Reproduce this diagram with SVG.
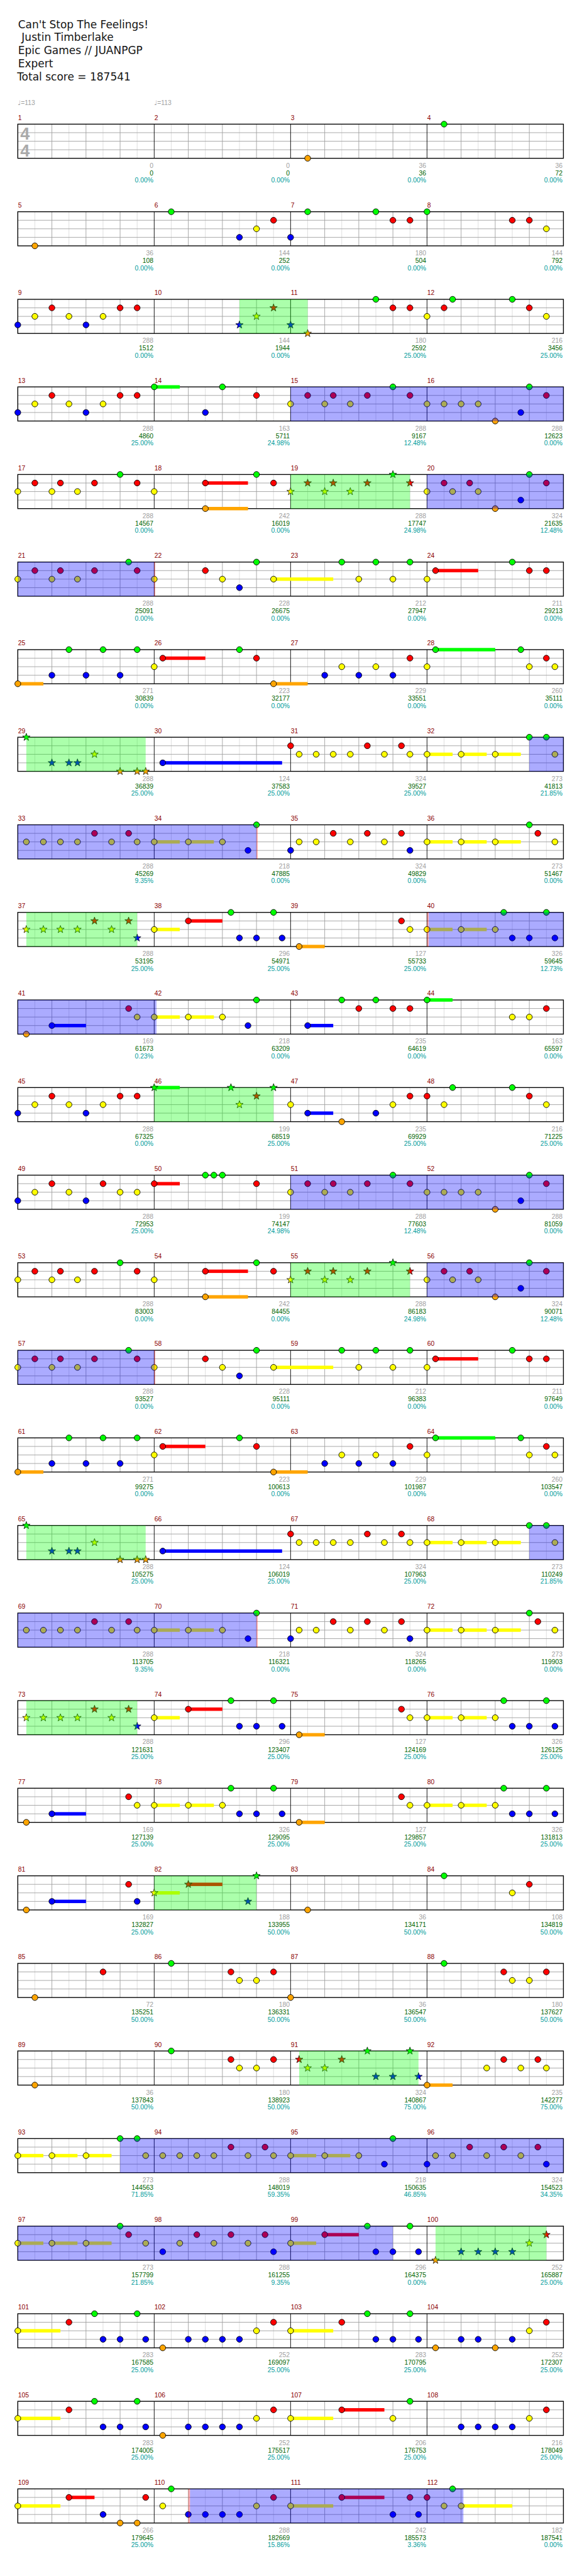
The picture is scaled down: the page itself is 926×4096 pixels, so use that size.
<svg xmlns="http://www.w3.org/2000/svg" width="926" height="4096" viewBox="0 0 926 4096">
<style>
text{font-family:"Liberation Sans",Arial,sans-serif}
.hd{font-family:"DejaVu Sans",Verdana,sans-serif;font-size:18.8px;fill:#141414}
.mn{font-size:11.5px;fill:#8b0000}
.a{font-size:11.5px;fill:#a0a0a0;text-anchor:end}
.s{font-size:11.5px;fill:#006400;text-anchor:end}
.p{font-size:11.5px;fill:#009c9c;text-anchor:end}
.tp{font-size:11.5px;fill:#a0a0a0}
.ts{font-size:30px;font-weight:bold;fill:#aaaaaa}
circle{stroke:#000;stroke-width:1}
.G{fill:#00ff00}.R{fill:#ff0000}.Y{fill:#ffff00}.B{fill:#0000ff}.O{fill:#ffa500}
.bo{fill:#0000ff;opacity:.33}.go{fill:#00ff00;opacity:.33}.ro{fill:#ff0000;opacity:.33}
</style>
<defs>
<path id="st" d="M0-7L1.65-2.27L6.66-2.16L2.66 0.87L4.11 5.66L0 2.8L-4.11 5.66L-2.66 0.87L-6.66-2.16L-1.65-2.27Z" stroke="#000" stroke-width="0.8"/>
<g id="staff">
<path d="M30 0V60M90 0V60M150 0V60M210 0V60M270 0V60M330 0V60M390 0V60M450 0V60M510 0V60M570 0V60M630 0V60M690 0V60M750 0V60M810 0V60M870 0V60M930 0V60" stroke="#dcdcdc"/>
<path d="M60 0V60M120 0V60M180 0V60M300 0V60M360 0V60M420 0V60M540 0V60M600 0V60M660 0V60M780 0V60M840 0V60M900 0V60" stroke="#a0a0a0"/>
<path d="M0 15H960M0 30H960M0 45H960" stroke="#a0a0a0"/>
<path d="M240 0V60M480 0V60M720 0V60" stroke="#000"/>
<rect width="960" height="60" fill="none" stroke="#000" stroke-width="1.5"/>
</g>
<g id="p3"><circle class="O" cx="30" cy="60" r="5.2"/></g>
<g id="p4"><circle class="G" cx="30" cy="0" r="5.2"/></g>
<g id="p6"><circle class="G" cx="30" cy="0" r="5.2"/><circle class="B" cx="150" cy="45" r="5.2"/><circle class="Y" cx="180" cy="30" r="5.2"/><circle class="R" cx="210" cy="15" r="5.2"/></g>
<g id="p7"><circle class="B" cx="0" cy="45" r="5.2"/><circle class="G" cx="30" cy="0" r="5.2"/><circle class="G" cx="150" cy="0" r="5.2"/><circle class="R" cx="180" cy="15" r="5.2"/><circle class="R" cx="210" cy="15" r="5.2"/></g>
<g id="p8"><circle class="G" cx="0" cy="0" r="5.2"/><circle class="R" cx="150" cy="15" r="5.2"/><circle class="R" cx="180" cy="15" r="5.2"/><circle class="Y" cx="210" cy="30" r="5.2"/></g>
<g id="p9"><circle class="B" cx="0" cy="45" r="5.2"/><circle class="Y" cx="30" cy="30" r="5.2"/><circle class="R" cx="60" cy="15" r="5.2"/><circle class="Y" cx="90" cy="30" r="5.2"/><circle class="B" cx="120" cy="45" r="5.2"/><circle class="Y" cx="150" cy="30" r="5.2"/><circle class="R" cx="180" cy="15" r="5.2"/><circle class="R" cx="210" cy="15" r="5.2"/></g>
<g id="p10"><use href="#st" x="150" y="45" class="B"/><use href="#st" x="180" y="30" class="Y"/><use href="#st" x="210" y="15" class="R"/></g>
<g id="p11"><use href="#st" x="0" y="45" class="B"/><use href="#st" x="30" y="60" class="O"/><circle class="G" cx="150" cy="0" r="5.2"/><circle class="R" cx="180" cy="15" r="5.2"/><circle class="R" cx="210" cy="15" r="5.2"/></g>
<g id="p12"><circle class="Y" cx="0" cy="30" r="5.2"/><circle class="R" cx="30" cy="15" r="5.2"/><circle class="G" cx="45" cy="0" r="5.2"/><circle class="G" cx="150" cy="0" r="5.2"/><circle class="R" cx="180" cy="15" r="5.2"/><circle class="Y" cx="210" cy="30" r="5.2"/></g>
<g id="p14"><rect class="G" x="0" y="-3" width="45" height="6"/><circle class="G" cx="0" cy="0" r="5.2"/><circle class="B" cx="90" cy="45" r="5.2"/><circle class="G" cx="120" cy="0" r="5.2"/><circle class="R" cx="180" cy="15" r="5.2"/></g>
<g id="pA"><circle class="Y" cx="0" cy="30" r="5.2"/><circle class="R" cx="30" cy="15" r="5.2"/><circle class="Y" cx="60" cy="30" r="5.2"/><circle class="R" cx="75" cy="15" r="5.2"/><circle class="Y" cx="105" cy="30" r="5.2"/><circle class="R" cx="135" cy="15" r="5.2"/><circle class="G" cx="180" cy="0" r="5.2"/><circle class="R" cx="210" cy="15" r="5.2"/></g>
<g id="pB"><circle class="Y" cx="0" cy="30" r="5.2"/><circle class="Y" cx="30" cy="30" r="5.2"/><circle class="Y" cx="60" cy="30" r="5.2"/><circle class="Y" cx="90" cy="30" r="5.2"/><circle class="O" cx="120" cy="60" r="5.2"/><circle class="B" cx="165" cy="45" r="5.2"/><circle class="G" cx="180" cy="0" r="5.2"/><circle class="R" cx="210" cy="15" r="5.2"/></g>
<g id="p18"><rect class="R" x="90" y="12" width="75" height="6"/><rect class="O" x="90" y="57" width="75" height="6"/><circle class="Y" cx="0" cy="30" r="5.2"/><circle class="R" cx="90" cy="15" r="5.2"/><circle class="O" cx="90" cy="60" r="5.2"/><circle class="G" cx="180" cy="0" r="5.2"/><circle class="R" cx="210" cy="15" r="5.2"/></g>
<g id="p19"><use href="#st" x="0" y="30" class="Y"/><use href="#st" x="30" y="15" class="R"/><use href="#st" x="60" y="30" class="Y"/><use href="#st" x="75" y="15" class="R"/><use href="#st" x="105" y="30" class="Y"/><use href="#st" x="135" y="15" class="R"/><use href="#st" x="180" y="0" class="G"/><use href="#st" x="210" y="15" class="R"/></g>
<g id="p20"><circle class="Y" cx="0" cy="30" r="5.2"/><circle class="R" cx="30" cy="15" r="5.2"/><circle class="Y" cx="45" cy="30" r="5.2"/><circle class="R" cx="75" cy="15" r="5.2"/><circle class="Y" cx="90" cy="30" r="5.2"/><circle class="O" cx="120" cy="60" r="5.2"/><circle class="B" cx="165" cy="45" r="5.2"/><circle class="G" cx="180" cy="0" r="5.2"/><circle class="R" cx="210" cy="15" r="5.2"/></g>
<g id="p21"><circle class="Y" cx="0" cy="30" r="5.2"/><circle class="R" cx="30" cy="15" r="5.2"/><circle class="Y" cx="60" cy="30" r="5.2"/><circle class="R" cx="75" cy="15" r="5.2"/><circle class="Y" cx="105" cy="30" r="5.2"/><circle class="R" cx="135" cy="15" r="5.2"/><circle class="G" cx="195" cy="0" r="5.2"/><circle class="R" cx="210" cy="15" r="5.2"/></g>
<g id="p22"><rect class="Y" x="210" y="27" width="105" height="6"/><circle class="Y" cx="0" cy="30" r="5.2"/><circle class="R" cx="90" cy="15" r="5.2"/><circle class="Y" cx="120" cy="30" r="5.2"/><circle class="B" cx="150" cy="45" r="5.2"/><circle class="G" cx="180" cy="0" r="5.2"/><circle class="Y" cx="210" cy="30" r="5.2"/></g>
<g id="p23"><circle class="G" cx="90" cy="0" r="5.2"/><circle class="Y" cx="120" cy="30" r="5.2"/><circle class="G" cx="150" cy="0" r="5.2"/><circle class="Y" cx="180" cy="30" r="5.2"/><circle class="G" cx="210" cy="0" r="5.2"/></g>
<g id="p24"><rect class="R" x="15" y="12" width="75" height="6"/><circle class="Y" cx="0" cy="30" r="5.2"/><circle class="R" cx="15" cy="15" r="5.2"/><circle class="G" cx="150" cy="0" r="5.2"/><circle class="R" cx="180" cy="15" r="5.2"/><circle class="R" cx="210" cy="15" r="5.2"/></g>
<g id="p25"><rect class="O" x="0" y="57" width="45" height="6"/><circle class="O" cx="0" cy="60" r="5.2"/><circle class="B" cx="60" cy="45" r="5.2"/><circle class="G" cx="90" cy="0" r="5.2"/><circle class="B" cx="120" cy="45" r="5.2"/><circle class="G" cx="150" cy="0" r="5.2"/><circle class="B" cx="180" cy="45" r="5.2"/><circle class="G" cx="210" cy="0" r="5.2"/></g>
<g id="p26"><rect class="R" x="15" y="12" width="75" height="6"/><rect class="O" x="210" y="57" width="60" height="6"/><circle class="Y" cx="0" cy="30" r="5.2"/><circle class="R" cx="15" cy="15" r="5.2"/><circle class="G" cx="150" cy="0" r="5.2"/><circle class="R" cx="180" cy="15" r="5.2"/><circle class="O" cx="210" cy="60" r="5.2"/></g>
<g id="p27"><circle class="B" cx="60" cy="45" r="5.2"/><circle class="Y" cx="90" cy="30" r="5.2"/><circle class="B" cx="120" cy="45" r="5.2"/><circle class="Y" cx="150" cy="30" r="5.2"/><circle class="B" cx="180" cy="45" r="5.2"/><circle class="R" cx="210" cy="15" r="5.2"/></g>
<g id="p28"><rect class="G" x="15" y="-3" width="105" height="6"/><circle class="Y" cx="0" cy="30" r="5.2"/><circle class="G" cx="15" cy="0" r="5.2"/><circle class="G" cx="165" cy="0" r="5.2"/><circle class="Y" cx="180" cy="30" r="5.2"/><circle class="R" cx="210" cy="15" r="5.2"/><circle class="Y" cx="225" cy="30" r="5.2"/></g>
<g id="p29"><use href="#st" x="15" y="0" class="G"/><use href="#st" x="60" y="45" class="B"/><use href="#st" x="90" y="45" class="B"/><use href="#st" x="105" y="45" class="B"/><use href="#st" x="135" y="30" class="Y"/><use href="#st" x="180" y="60" class="O"/><use href="#st" x="210" y="60" class="O"/><use href="#st" x="225" y="60" class="O"/></g>
<g id="p30"><rect class="B" x="15" y="42" width="210" height="6"/><circle class="B" cx="15" cy="45" r="5.2"/></g>
<g id="p31"><circle class="R" cx="0" cy="15" r="5.2"/><circle class="Y" cx="15" cy="30" r="5.2"/><circle class="Y" cx="45" cy="30" r="5.2"/><circle class="Y" cx="75" cy="30" r="5.2"/><circle class="Y" cx="105" cy="30" r="5.2"/><circle class="R" cx="135" cy="15" r="5.2"/><circle class="Y" cx="165" cy="30" r="5.2"/><circle class="R" cx="195" cy="15" r="5.2"/><circle class="Y" cx="210" cy="30" r="5.2"/></g>
<g id="p32"><rect class="Y" x="0" y="27" width="45" height="6"/><rect class="Y" x="60" y="27" width="45" height="6"/><rect class="Y" x="120" y="27" width="45" height="6"/><circle class="Y" cx="0" cy="30" r="5.2"/><circle class="Y" cx="60" cy="30" r="5.2"/><circle class="Y" cx="120" cy="30" r="5.2"/><circle class="G" cx="180" cy="0" r="5.2"/><circle class="G" cx="210" cy="0" r="5.2"/><circle class="Y" cx="225" cy="30" r="5.2"/></g>
<g id="p33"><circle class="Y" cx="15" cy="30" r="5.2"/><circle class="Y" cx="45" cy="30" r="5.2"/><circle class="Y" cx="75" cy="30" r="5.2"/><circle class="Y" cx="105" cy="30" r="5.2"/><circle class="R" cx="135" cy="15" r="5.2"/><circle class="Y" cx="165" cy="30" r="5.2"/><circle class="R" cx="195" cy="15" r="5.2"/><circle class="Y" cx="210" cy="30" r="5.2"/></g>
<g id="p34"><rect class="Y" x="0" y="27" width="45" height="6"/><rect class="Y" x="60" y="27" width="45" height="6"/><circle class="Y" cx="0" cy="30" r="5.2"/><circle class="Y" cx="60" cy="30" r="5.2"/><circle class="Y" cx="120" cy="30" r="5.2"/><circle class="B" cx="165" cy="45" r="5.2"/><circle class="G" cx="180" cy="0" r="5.2"/></g>
<g id="p35"><circle class="B" cx="0" cy="45" r="5.2"/><circle class="Y" cx="15" cy="30" r="5.2"/><circle class="Y" cx="45" cy="30" r="5.2"/><circle class="R" cx="75" cy="15" r="5.2"/><circle class="Y" cx="105" cy="30" r="5.2"/><circle class="R" cx="135" cy="15" r="5.2"/><circle class="Y" cx="165" cy="30" r="5.2"/><circle class="R" cx="195" cy="15" r="5.2"/><circle class="B" cx="210" cy="45" r="5.2"/></g>
<g id="p36"><rect class="Y" x="0" y="27" width="45" height="6"/><rect class="Y" x="60" y="27" width="45" height="6"/><rect class="Y" x="120" y="27" width="45" height="6"/><circle class="Y" cx="0" cy="30" r="5.2"/><circle class="Y" cx="60" cy="30" r="5.2"/><circle class="Y" cx="120" cy="30" r="5.2"/><circle class="G" cx="180" cy="0" r="5.2"/><circle class="R" cx="195" cy="15" r="5.2"/><circle class="Y" cx="225" cy="30" r="5.2"/></g>
<g id="p37"><use href="#st" x="15" y="30" class="Y"/><use href="#st" x="45" y="30" class="Y"/><use href="#st" x="75" y="30" class="Y"/><use href="#st" x="105" y="30" class="Y"/><use href="#st" x="135" y="15" class="R"/><use href="#st" x="165" y="30" class="Y"/><use href="#st" x="195" y="15" class="R"/><use href="#st" x="210" y="45" class="B"/></g>
<g id="p38"><rect class="Y" x="0" y="27" width="45" height="6"/><rect class="R" x="60" y="12" width="60" height="6"/><circle class="Y" cx="0" cy="30" r="5.2"/><circle class="R" cx="60" cy="15" r="5.2"/><circle class="G" cx="135" cy="0" r="5.2"/><circle class="B" cx="150" cy="45" r="5.2"/><circle class="B" cx="180" cy="45" r="5.2"/><circle class="G" cx="210" cy="0" r="5.2"/><circle class="B" cx="225" cy="45" r="5.2"/></g>
<g id="p39"><rect class="O" x="15" y="57" width="45" height="6"/><circle class="O" cx="15" cy="60" r="5.2"/><circle class="R" cx="195" cy="15" r="5.2"/><circle class="Y" cx="210" cy="30" r="5.2"/></g>
<g id="p40"><rect class="Y" x="0" y="27" width="45" height="6"/><rect class="Y" x="60" y="27" width="45" height="6"/><circle class="Y" cx="0" cy="30" r="5.2"/><circle class="Y" cx="60" cy="30" r="5.2"/><circle class="Y" cx="120" cy="30" r="5.2"/><circle class="G" cx="135" cy="0" r="5.2"/><circle class="B" cx="150" cy="45" r="5.2"/><circle class="B" cx="180" cy="45" r="5.2"/><circle class="G" cx="210" cy="0" r="5.2"/><circle class="B" cx="225" cy="45" r="5.2"/></g>
<g id="p41"><rect class="B" x="60" y="42" width="60" height="6"/><circle class="O" cx="15" cy="60" r="5.2"/><circle class="B" cx="60" cy="45" r="5.2"/><circle class="R" cx="195" cy="15" r="5.2"/><circle class="Y" cx="210" cy="30" r="5.2"/></g>
<g id="p43"><rect class="B" x="30" y="42" width="45" height="6"/><circle class="B" cx="30" cy="45" r="5.2"/><circle class="G" cx="90" cy="0" r="5.2"/><circle class="R" cx="120" cy="15" r="5.2"/><circle class="G" cx="150" cy="0" r="5.2"/><circle class="R" cx="180" cy="15" r="5.2"/><circle class="R" cx="210" cy="15" r="5.2"/></g>
<g id="p44"><rect class="G" x="0" y="-3" width="45" height="6"/><circle class="G" cx="0" cy="0" r="5.2"/><circle class="Y" cx="150" cy="30" r="5.2"/><circle class="Y" cx="180" cy="30" r="5.2"/><circle class="R" cx="210" cy="15" r="5.2"/></g>
<g id="p46"><rect class="G" x="0" y="-3" width="45" height="6"/><use href="#st" x="0" y="0" class="G"/><use href="#st" x="135" y="0" class="G"/><use href="#st" x="150" y="30" class="Y"/><use href="#st" x="180" y="15" class="R"/><use href="#st" x="210" y="0" class="G"/></g>
<g id="p47"><rect class="B" x="30" y="42" width="45" height="6"/><circle class="Y" cx="0" cy="30" r="5.2"/><circle class="B" cx="30" cy="45" r="5.2"/><circle class="O" cx="90" cy="60" r="5.2"/><circle class="B" cx="150" cy="45" r="5.2"/><circle class="Y" cx="180" cy="30" r="5.2"/><circle class="R" cx="210" cy="15" r="5.2"/></g>
<g id="p48"><circle class="R" cx="0" cy="15" r="5.2"/><circle class="Y" cx="30" cy="30" r="5.2"/><circle class="G" cx="45" cy="0" r="5.2"/><circle class="G" cx="150" cy="0" r="5.2"/><circle class="R" cx="180" cy="15" r="5.2"/><circle class="Y" cx="210" cy="30" r="5.2"/></g>
<g id="p49"><circle class="B" cx="0" cy="45" r="5.2"/><circle class="Y" cx="30" cy="30" r="5.2"/><circle class="R" cx="60" cy="15" r="5.2"/><circle class="Y" cx="90" cy="30" r="5.2"/><circle class="B" cx="120" cy="45" r="5.2"/><circle class="R" cx="150" cy="15" r="5.2"/><circle class="Y" cx="180" cy="30" r="5.2"/><circle class="Y" cx="210" cy="30" r="5.2"/></g>
<g id="p50"><rect class="R" x="0" y="12" width="45" height="6"/><circle class="R" cx="0" cy="15" r="5.2"/><circle class="G" cx="90" cy="0" r="5.2"/><circle class="G" cx="105" cy="0" r="5.2"/><circle class="G" cx="120" cy="0" r="5.2"/><circle class="R" cx="180" cy="15" r="5.2"/></g>
<g id="p81"><rect class="B" x="60" y="42" width="60" height="6"/><circle class="O" cx="15" cy="60" r="5.2"/><circle class="B" cx="60" cy="45" r="5.2"/><circle class="R" cx="195" cy="15" r="5.2"/><circle class="B" cx="210" cy="45" r="5.2"/></g>
<g id="p82"><rect class="Y" x="0" y="27" width="45" height="6"/><rect class="R" x="60" y="12" width="60" height="6"/><use href="#st" x="0" y="30" class="Y"/><use href="#st" x="60" y="15" class="R"/><use href="#st" x="165" y="45" class="B"/><use href="#st" x="180" y="0" class="G"/></g>
<g id="p84"><circle class="G" cx="30" cy="0" r="5.2"/><circle class="Y" cx="150" cy="30" r="5.2"/><circle class="R" cx="180" cy="15" r="5.2"/></g>
<g id="p85"><circle class="O" cx="30" cy="60" r="5.2"/><circle class="R" cx="150" cy="15" r="5.2"/></g>
<g id="p86"><circle class="G" cx="30" cy="0" r="5.2"/><circle class="R" cx="135" cy="15" r="5.2"/><circle class="Y" cx="150" cy="30" r="5.2"/><circle class="Y" cx="180" cy="30" r="5.2"/><circle class="R" cx="210" cy="15" r="5.2"/></g>
<g id="p87"><circle class="O" cx="0" cy="60" r="5.2"/></g>
<g id="p91"><use href="#st" x="15" y="15" class="R"/><use href="#st" x="30" y="30" class="Y"/><use href="#st" x="60" y="30" class="Y"/><use href="#st" x="90" y="15" class="R"/><use href="#st" x="135" y="0" class="G"/><use href="#st" x="150" y="45" class="B"/><use href="#st" x="180" y="45" class="B"/><use href="#st" x="210" y="0" class="G"/><use href="#st" x="225" y="45" class="B"/></g>
<g id="p92"><rect class="O" x="0" y="57" width="45" height="6"/><circle class="O" cx="0" cy="60" r="5.2"/><circle class="Y" cx="105" cy="30" r="5.2"/><circle class="R" cx="135" cy="15" r="5.2"/><circle class="Y" cx="165" cy="30" r="5.2"/><circle class="R" cx="195" cy="15" r="5.2"/><circle class="Y" cx="210" cy="30" r="5.2"/></g>
<g id="p98"><circle class="B" cx="15" cy="45" r="5.2"/><circle class="Y" cx="45" cy="30" r="5.2"/><circle class="R" cx="75" cy="15" r="5.2"/><circle class="Y" cx="105" cy="30" r="5.2"/><circle class="R" cx="135" cy="15" r="5.2"/><circle class="Y" cx="165" cy="30" r="5.2"/><circle class="R" cx="195" cy="15" r="5.2"/><circle class="B" cx="210" cy="45" r="5.2"/></g>
<g id="p100"><use href="#st" x="15" y="60" class="O"/><use href="#st" x="60" y="45" class="B"/><use href="#st" x="90" y="45" class="B"/><use href="#st" x="120" y="45" class="B"/><use href="#st" x="150" y="45" class="B"/><use href="#st" x="180" y="30" class="Y"/><use href="#st" x="210" y="15" class="R"/></g>
<g id="p101"><rect class="Y" x="0" y="27" width="75" height="6"/><circle class="Y" cx="0" cy="30" r="5.2"/><circle class="R" cx="90" cy="15" r="5.2"/><circle class="G" cx="135" cy="0" r="5.2"/><circle class="B" cx="150" cy="45" r="5.2"/><circle class="B" cx="180" cy="45" r="5.2"/><circle class="G" cx="210" cy="0" r="5.2"/><circle class="B" cx="225" cy="45" r="5.2"/></g>
<g id="p102"><circle class="O" cx="15" cy="60" r="5.2"/><circle class="B" cx="60" cy="45" r="5.2"/><circle class="B" cx="90" cy="45" r="5.2"/><circle class="B" cx="120" cy="45" r="5.2"/><circle class="B" cx="150" cy="45" r="5.2"/><circle class="Y" cx="180" cy="30" r="5.2"/><circle class="R" cx="210" cy="15" r="5.2"/></g>
<g id="p104"><circle class="O" cx="15" cy="60" r="5.2"/><circle class="B" cx="60" cy="45" r="5.2"/><circle class="B" cx="90" cy="45" r="5.2"/><circle class="O" cx="120" cy="60" r="5.2"/><circle class="B" cx="150" cy="45" r="5.2"/><circle class="Y" cx="180" cy="30" r="5.2"/><circle class="R" cx="210" cy="15" r="5.2"/></g>
<g id="p107"><rect class="Y" x="0" y="27" width="75" height="6"/><rect class="R" x="90" y="12" width="75" height="6"/><circle class="Y" cx="0" cy="30" r="5.2"/><circle class="R" cx="90" cy="15" r="5.2"/><circle class="Y" cx="180" cy="30" r="5.2"/><circle class="G" cx="210" cy="0" r="5.2"/></g>
<g id="p108"><circle class="B" cx="60" cy="45" r="5.2"/><circle class="B" cx="90" cy="45" r="5.2"/><circle class="B" cx="120" cy="45" r="5.2"/><circle class="B" cx="150" cy="45" r="5.2"/><circle class="Y" cx="180" cy="30" r="5.2"/><circle class="R" cx="210" cy="15" r="5.2"/></g>
<g id="p109"><rect class="Y" x="0" y="27" width="75" height="6"/><rect class="R" x="90" y="12" width="45" height="6"/><circle class="Y" cx="0" cy="30" r="5.2"/><circle class="R" cx="90" cy="15" r="5.2"/><circle class="B" cx="150" cy="45" r="5.2"/><circle class="O" cx="180" cy="60" r="5.2"/><circle class="O" cx="210" cy="60" r="5.2"/><circle class="R" cx="225" cy="15" r="5.2"/></g>
<g id="p110"><circle class="Y" cx="15" cy="30" r="5.2"/><circle class="G" cx="30" cy="0" r="5.2"/><circle class="B" cx="60" cy="45" r="5.2"/><circle class="B" cx="90" cy="45" r="5.2"/><circle class="B" cx="120" cy="45" r="5.2"/><circle class="B" cx="150" cy="45" r="5.2"/><circle class="Y" cx="180" cy="30" r="5.2"/><circle class="R" cx="210" cy="15" r="5.2"/></g>
<g id="p111"><rect class="Y" x="0" y="27" width="75" height="6"/><rect class="R" x="90" y="12" width="75" height="6"/><circle class="Y" cx="0" cy="30" r="5.2"/><circle class="R" cx="90" cy="15" r="5.2"/><circle class="B" cx="180" cy="45" r="5.2"/><circle class="R" cx="210" cy="15" r="5.2"/><circle class="B" cx="225" cy="45" r="5.2"/></g>
<g id="p112"><rect class="Y" x="60" y="27" width="90" height="6"/><circle class="R" cx="0" cy="15" r="5.2"/><circle class="Y" cx="30" cy="30" r="5.2"/><circle class="G" cx="45" cy="0" r="5.2"/><circle class="Y" cx="60" cy="30" r="5.2"/></g>
</defs>
<rect width="926" height="4096" fill="#fff"/>
<g transform="scale(0.9043)">
<g id="header">
<text class="hd" x="31.7" y="49.3">Can't Stop The Feelings!</text>
<text class="hd" x="38" y="72.3">Justin Timberlake</text>
<text class="hd" x="31.7" y="95.3">Epic Games // JUANPGP</text>
<text class="hd" x="31.7" y="118.3">Expert</text>
<text class="hd" x="30" y="141">Total score = 187541</text>
</g>
<g id="row1" transform="translate(31.3,218.3)">
<use href="#staff"/>
<text class="ts" x="4.5" y="26.7">4</text><text class="ts" x="4.5" y="56.7">4</text>
<use href="#p3" x="480"/><use href="#p4" x="720"/>
<text class="tp" x="0" y="-33.3"><tspan font-family="DejaVu Sans">♩</tspan>=113</text><text class="tp" x="240" y="-33.3"><tspan font-family="DejaVu Sans">♩</tspan>=113</text>
<text class="mn" x="0.5" y="-7.3">1</text><text class="mn" x="240.5" y="-7.3">2</text><text class="mn" x="480.5" y="-7.3">3</text><text class="mn" x="720.5" y="-7.3">4</text>
<text class="a" x="238.5" y="76.7">0</text><text class="s" x="238.5" y="90">0</text><text class="p" x="238.5" y="102.7">0.00%</text>
<text class="a" x="478.5" y="76.7">0</text><text class="s" x="478.5" y="90">0</text><text class="p" x="478.5" y="102.7">0.00%</text>
<text class="a" x="718.5" y="76.7">36</text><text class="s" x="718.5" y="90">36</text><text class="p" x="718.5" y="102.7">0.00%</text>
<text class="a" x="958.5" y="76.7">36</text><text class="s" x="958.5" y="90">72</text><text class="p" x="958.5" y="102.7">0.00%</text>
</g>
<g id="row2" transform="translate(31.3,372.3)">
<use href="#staff"/>
<use href="#p3"/><use href="#p6" x="240"/><use href="#p7" x="480"/><use href="#p8" x="720"/>
<text class="mn" x="0.5" y="-7.3">5</text><text class="mn" x="240.5" y="-7.3">6</text><text class="mn" x="480.5" y="-7.3">7</text><text class="mn" x="720.5" y="-7.3">8</text>
<text class="a" x="238.5" y="76.7">36</text><text class="s" x="238.5" y="90">108</text><text class="p" x="238.5" y="102.7">0.00%</text>
<text class="a" x="478.5" y="76.7">144</text><text class="s" x="478.5" y="90">252</text><text class="p" x="478.5" y="102.7">0.00%</text>
<text class="a" x="718.5" y="76.7">180</text><text class="s" x="718.5" y="90">504</text><text class="p" x="718.5" y="102.7">0.00%</text>
<text class="a" x="958.5" y="76.7">144</text><text class="s" x="958.5" y="90">792</text><text class="p" x="958.5" y="102.7">0.00%</text>
</g>
<g id="row3" transform="translate(31.3,526.3)">
<use href="#staff"/>
<use href="#p9"/><use href="#p10" x="240"/><use href="#p11" x="480"/><use href="#p12" x="720"/>
<rect class="go" x="390" y="0" width="120" height="60"/>
<text class="mn" x="0.5" y="-7.3">9</text><text class="mn" x="240.5" y="-7.3">10</text><text class="mn" x="480.5" y="-7.3">11</text><text class="mn" x="720.5" y="-7.3">12</text>
<text class="a" x="238.5" y="76.7">288</text><text class="s" x="238.5" y="90">1512</text><text class="p" x="238.5" y="102.7">0.00%</text>
<text class="a" x="478.5" y="76.7">144</text><text class="s" x="478.5" y="90">1944</text><text class="p" x="478.5" y="102.7">0.00%</text>
<text class="a" x="718.5" y="76.7">180</text><text class="s" x="718.5" y="90">2592</text><text class="p" x="718.5" y="102.7">25.00%</text>
<text class="a" x="958.5" y="76.7">216</text><text class="s" x="958.5" y="90">3456</text><text class="p" x="958.5" y="102.7">25.00%</text>
</g>
<g id="row4" transform="translate(31.3,680.3)">
<use href="#staff"/>
<use href="#p9"/><use href="#p14" x="240"/><use href="#pA" x="480"/><use href="#pB" x="720"/>
<rect class="bo" x="480" y="0" width="480" height="60"/>
<text class="mn" x="0.5" y="-7.3">13</text><text class="mn" x="240.5" y="-7.3">14</text><text class="mn" x="480.5" y="-7.3">15</text><text class="mn" x="720.5" y="-7.3">16</text>
<text class="a" x="238.5" y="76.7">288</text><text class="s" x="238.5" y="90">4860</text><text class="p" x="238.5" y="102.7">25.00%</text>
<text class="a" x="478.5" y="76.7">163</text><text class="s" x="478.5" y="90">5711</text><text class="p" x="478.5" y="102.7">24.98%</text>
<text class="a" x="718.5" y="76.7">288</text><text class="s" x="718.5" y="90">9167</text><text class="p" x="718.5" y="102.7">12.48%</text>
<text class="a" x="958.5" y="76.7">288</text><text class="s" x="958.5" y="90">12623</text><text class="p" x="958.5" y="102.7">0.00%</text>
</g>
<g id="row5" transform="translate(31.3,834.3)">
<use href="#staff"/>
<use href="#pA"/><use href="#p18" x="240"/><use href="#p19" x="480"/><use href="#p20" x="720"/>
<rect class="go" x="480" y="0" width="210" height="60"/><rect class="bo" x="720" y="0" width="240" height="60"/>
<text class="mn" x="0.5" y="-7.3">17</text><text class="mn" x="240.5" y="-7.3">18</text><text class="mn" x="480.5" y="-7.3">19</text><text class="mn" x="720.5" y="-7.3">20</text>
<text class="a" x="238.5" y="76.7">288</text><text class="s" x="238.5" y="90">14567</text><text class="p" x="238.5" y="102.7">0.00%</text>
<text class="a" x="478.5" y="76.7">242</text><text class="s" x="478.5" y="90">16019</text><text class="p" x="478.5" y="102.7">0.00%</text>
<text class="a" x="718.5" y="76.7">288</text><text class="s" x="718.5" y="90">17747</text><text class="p" x="718.5" y="102.7">24.98%</text>
<text class="a" x="958.5" y="76.7">324</text><text class="s" x="958.5" y="90">21635</text><text class="p" x="958.5" y="102.7">12.48%</text>
</g>
<g id="row6" transform="translate(31.3,988.3)">
<use href="#staff"/>
<use href="#p21"/><use href="#p22" x="240"/><use href="#p23" x="480"/><use href="#p24" x="720"/>
<rect class="bo" x="0" y="0" width="240" height="60"/><rect class="ro" x="240" y="0" width="2" height="60"/>
<text class="mn" x="0.5" y="-7.3">21</text><text class="mn" x="240.5" y="-7.3">22</text><text class="mn" x="480.5" y="-7.3">23</text><text class="mn" x="720.5" y="-7.3">24</text>
<text class="a" x="238.5" y="76.7">288</text><text class="s" x="238.5" y="90">25091</text><text class="p" x="238.5" y="102.7">0.00%</text>
<text class="a" x="478.5" y="76.7">228</text><text class="s" x="478.5" y="90">26675</text><text class="p" x="478.5" y="102.7">0.00%</text>
<text class="a" x="718.5" y="76.7">212</text><text class="s" x="718.5" y="90">27947</text><text class="p" x="718.5" y="102.7">0.00%</text>
<text class="a" x="958.5" y="76.7">211</text><text class="s" x="958.5" y="90">29213</text><text class="p" x="958.5" y="102.7">0.00%</text>
</g>
<g id="row7" transform="translate(31.3,1142.3)">
<use href="#staff"/>
<use href="#p25"/><use href="#p26" x="240"/><use href="#p27" x="480"/><use href="#p28" x="720"/>
<text class="mn" x="0.5" y="-7.3">25</text><text class="mn" x="240.5" y="-7.3">26</text><text class="mn" x="480.5" y="-7.3">27</text><text class="mn" x="720.5" y="-7.3">28</text>
<text class="a" x="238.5" y="76.7">271</text><text class="s" x="238.5" y="90">30839</text><text class="p" x="238.5" y="102.7">0.00%</text>
<text class="a" x="478.5" y="76.7">223</text><text class="s" x="478.5" y="90">32177</text><text class="p" x="478.5" y="102.7">0.00%</text>
<text class="a" x="718.5" y="76.7">229</text><text class="s" x="718.5" y="90">33551</text><text class="p" x="718.5" y="102.7">0.00%</text>
<text class="a" x="958.5" y="76.7">260</text><text class="s" x="958.5" y="90">35111</text><text class="p" x="958.5" y="102.7">0.00%</text>
</g>
<g id="row8" transform="translate(31.3,1296.3)">
<use href="#staff"/>
<use href="#p29"/><use href="#p30" x="240"/><use href="#p31" x="480"/><use href="#p32" x="720"/>
<rect class="go" x="15" y="0" width="210" height="60"/><rect class="bo" x="900" y="0" width="60" height="60"/>
<text class="mn" x="0.5" y="-7.3">29</text><text class="mn" x="240.5" y="-7.3">30</text><text class="mn" x="480.5" y="-7.3">31</text><text class="mn" x="720.5" y="-7.3">32</text>
<text class="a" x="238.5" y="76.7">288</text><text class="s" x="238.5" y="90">36839</text><text class="p" x="238.5" y="102.7">25.00%</text>
<text class="a" x="478.5" y="76.7">124</text><text class="s" x="478.5" y="90">37583</text><text class="p" x="478.5" y="102.7">25.00%</text>
<text class="a" x="718.5" y="76.7">324</text><text class="s" x="718.5" y="90">39527</text><text class="p" x="718.5" y="102.7">25.00%</text>
<text class="a" x="958.5" y="76.7">273</text><text class="s" x="958.5" y="90">41813</text><text class="p" x="958.5" y="102.7">21.85%</text>
</g>
<g id="row9" transform="translate(31.3,1450.3)">
<use href="#staff"/>
<use href="#p33"/><use href="#p34" x="240"/><use href="#p35" x="480"/><use href="#p36" x="720"/>
<rect class="bo" x="0" y="0" width="420" height="60"/><rect class="ro" x="420" y="0" width="2" height="60"/>
<text class="mn" x="0.5" y="-7.3">33</text><text class="mn" x="240.5" y="-7.3">34</text><text class="mn" x="480.5" y="-7.3">35</text><text class="mn" x="720.5" y="-7.3">36</text>
<text class="a" x="238.5" y="76.7">288</text><text class="s" x="238.5" y="90">45269</text><text class="p" x="238.5" y="102.7">9.35%</text>
<text class="a" x="478.5" y="76.7">218</text><text class="s" x="478.5" y="90">47885</text><text class="p" x="478.5" y="102.7">0.00%</text>
<text class="a" x="718.5" y="76.7">324</text><text class="s" x="718.5" y="90">49829</text><text class="p" x="718.5" y="102.7">0.00%</text>
<text class="a" x="958.5" y="76.7">273</text><text class="s" x="958.5" y="90">51467</text><text class="p" x="958.5" y="102.7">0.00%</text>
</g>
<g id="row10" transform="translate(31.3,1604.3)">
<use href="#staff"/>
<use href="#p37"/><use href="#p38" x="240"/><use href="#p39" x="480"/><use href="#p40" x="720"/>
<rect class="go" x="15" y="0" width="195" height="60"/><rect class="ro" x="720" y="0" width="3" height="60"/><rect class="bo" x="723" y="0" width="237" height="60"/>
<text class="mn" x="0.5" y="-7.3">37</text><text class="mn" x="240.5" y="-7.3">38</text><text class="mn" x="480.5" y="-7.3">39</text><text class="mn" x="720.5" y="-7.3">40</text>
<text class="a" x="238.5" y="76.7">288</text><text class="s" x="238.5" y="90">53195</text><text class="p" x="238.5" y="102.7">25.00%</text>
<text class="a" x="478.5" y="76.7">296</text><text class="s" x="478.5" y="90">54971</text><text class="p" x="478.5" y="102.7">25.00%</text>
<text class="a" x="718.5" y="76.7">127</text><text class="s" x="718.5" y="90">55733</text><text class="p" x="718.5" y="102.7">25.00%</text>
<text class="a" x="958.5" y="76.7">326</text><text class="s" x="958.5" y="90">59645</text><text class="p" x="958.5" y="102.7">12.73%</text>
</g>
<g id="row11" transform="translate(31.3,1758.3)">
<use href="#staff"/>
<use href="#p41"/><use href="#p34" x="240"/><use href="#p43" x="480"/><use href="#p44" x="720"/>
<rect class="bo" x="0" y="0" width="244" height="60"/>
<text class="mn" x="0.5" y="-7.3">41</text><text class="mn" x="240.5" y="-7.3">42</text><text class="mn" x="480.5" y="-7.3">43</text><text class="mn" x="720.5" y="-7.3">44</text>
<text class="a" x="238.5" y="76.7">169</text><text class="s" x="238.5" y="90">61673</text><text class="p" x="238.5" y="102.7">0.23%</text>
<text class="a" x="478.5" y="76.7">218</text><text class="s" x="478.5" y="90">63209</text><text class="p" x="478.5" y="102.7">0.00%</text>
<text class="a" x="718.5" y="76.7">235</text><text class="s" x="718.5" y="90">64619</text><text class="p" x="718.5" y="102.7">0.00%</text>
<text class="a" x="958.5" y="76.7">163</text><text class="s" x="958.5" y="90">65597</text><text class="p" x="958.5" y="102.7">0.00%</text>
</g>
<g id="row12" transform="translate(31.3,1912.3)">
<use href="#staff"/>
<use href="#p9"/><use href="#p46" x="240"/><use href="#p47" x="480"/><use href="#p48" x="720"/>
<rect class="go" x="240" y="0" width="210" height="60"/>
<text class="mn" x="0.5" y="-7.3">45</text><text class="mn" x="240.5" y="-7.3">46</text><text class="mn" x="480.5" y="-7.3">47</text><text class="mn" x="720.5" y="-7.3">48</text>
<text class="a" x="238.5" y="76.7">288</text><text class="s" x="238.5" y="90">67325</text><text class="p" x="238.5" y="102.7">0.00%</text>
<text class="a" x="478.5" y="76.7">199</text><text class="s" x="478.5" y="90">68519</text><text class="p" x="478.5" y="102.7">25.00%</text>
<text class="a" x="718.5" y="76.7">235</text><text class="s" x="718.5" y="90">69929</text><text class="p" x="718.5" y="102.7">25.00%</text>
<text class="a" x="958.5" y="76.7">216</text><text class="s" x="958.5" y="90">71225</text><text class="p" x="958.5" y="102.7">25.00%</text>
</g>
<g id="row13" transform="translate(31.3,2066.3)">
<use href="#staff"/>
<use href="#p49"/><use href="#p50" x="240"/><use href="#pA" x="480"/><use href="#pB" x="720"/>
<rect class="bo" x="480" y="0" width="480" height="60"/>
<text class="mn" x="0.5" y="-7.3">49</text><text class="mn" x="240.5" y="-7.3">50</text><text class="mn" x="480.5" y="-7.3">51</text><text class="mn" x="720.5" y="-7.3">52</text>
<text class="a" x="238.5" y="76.7">288</text><text class="s" x="238.5" y="90">72953</text><text class="p" x="238.5" y="102.7">25.00%</text>
<text class="a" x="478.5" y="76.7">199</text><text class="s" x="478.5" y="90">74147</text><text class="p" x="478.5" y="102.7">24.98%</text>
<text class="a" x="718.5" y="76.7">288</text><text class="s" x="718.5" y="90">77603</text><text class="p" x="718.5" y="102.7">12.48%</text>
<text class="a" x="958.5" y="76.7">288</text><text class="s" x="958.5" y="90">81059</text><text class="p" x="958.5" y="102.7">0.00%</text>
</g>
<g id="row14" transform="translate(31.3,2220.3)">
<use href="#staff"/>
<use href="#pA"/><use href="#p18" x="240"/><use href="#p19" x="480"/><use href="#p20" x="720"/>
<rect class="go" x="480" y="0" width="210" height="60"/><rect class="bo" x="720" y="0" width="240" height="60"/>
<text class="mn" x="0.5" y="-7.3">53</text><text class="mn" x="240.5" y="-7.3">54</text><text class="mn" x="480.5" y="-7.3">55</text><text class="mn" x="720.5" y="-7.3">56</text>
<text class="a" x="238.5" y="76.7">288</text><text class="s" x="238.5" y="90">83003</text><text class="p" x="238.5" y="102.7">0.00%</text>
<text class="a" x="478.5" y="76.7">242</text><text class="s" x="478.5" y="90">84455</text><text class="p" x="478.5" y="102.7">0.00%</text>
<text class="a" x="718.5" y="76.7">288</text><text class="s" x="718.5" y="90">86183</text><text class="p" x="718.5" y="102.7">24.98%</text>
<text class="a" x="958.5" y="76.7">324</text><text class="s" x="958.5" y="90">90071</text><text class="p" x="958.5" y="102.7">12.48%</text>
</g>
<g id="row15" transform="translate(31.3,2374.3)">
<use href="#staff"/>
<use href="#p21"/><use href="#p22" x="240"/><use href="#p23" x="480"/><use href="#p24" x="720"/>
<rect class="bo" x="0" y="0" width="240" height="60"/><rect class="ro" x="240" y="0" width="2" height="60"/>
<text class="mn" x="0.5" y="-7.3">57</text><text class="mn" x="240.5" y="-7.3">58</text><text class="mn" x="480.5" y="-7.3">59</text><text class="mn" x="720.5" y="-7.3">60</text>
<text class="a" x="238.5" y="76.7">288</text><text class="s" x="238.5" y="90">93527</text><text class="p" x="238.5" y="102.7">0.00%</text>
<text class="a" x="478.5" y="76.7">228</text><text class="s" x="478.5" y="90">95111</text><text class="p" x="478.5" y="102.7">0.00%</text>
<text class="a" x="718.5" y="76.7">212</text><text class="s" x="718.5" y="90">96383</text><text class="p" x="718.5" y="102.7">0.00%</text>
<text class="a" x="958.5" y="76.7">211</text><text class="s" x="958.5" y="90">97649</text><text class="p" x="958.5" y="102.7">0.00%</text>
</g>
<g id="row16" transform="translate(31.3,2528.3)">
<use href="#staff"/>
<use href="#p25"/><use href="#p26" x="240"/><use href="#p27" x="480"/><use href="#p28" x="720"/>
<text class="mn" x="0.5" y="-7.3">61</text><text class="mn" x="240.5" y="-7.3">62</text><text class="mn" x="480.5" y="-7.3">63</text><text class="mn" x="720.5" y="-7.3">64</text>
<text class="a" x="238.5" y="76.7">271</text><text class="s" x="238.5" y="90">99275</text><text class="p" x="238.5" y="102.7">0.00%</text>
<text class="a" x="478.5" y="76.7">223</text><text class="s" x="478.5" y="90">100613</text><text class="p" x="478.5" y="102.7">0.00%</text>
<text class="a" x="718.5" y="76.7">229</text><text class="s" x="718.5" y="90">101987</text><text class="p" x="718.5" y="102.7">0.00%</text>
<text class="a" x="958.5" y="76.7">260</text><text class="s" x="958.5" y="90">103547</text><text class="p" x="958.5" y="102.7">0.00%</text>
</g>
<g id="row17" transform="translate(31.3,2682.3)">
<use href="#staff"/>
<use href="#p29"/><use href="#p30" x="240"/><use href="#p31" x="480"/><use href="#p32" x="720"/>
<rect class="go" x="15" y="0" width="210" height="60"/><rect class="bo" x="900" y="0" width="60" height="60"/>
<text class="mn" x="0.5" y="-7.3">65</text><text class="mn" x="240.5" y="-7.3">66</text><text class="mn" x="480.5" y="-7.3">67</text><text class="mn" x="720.5" y="-7.3">68</text>
<text class="a" x="238.5" y="76.7">288</text><text class="s" x="238.5" y="90">105275</text><text class="p" x="238.5" y="102.7">25.00%</text>
<text class="a" x="478.5" y="76.7">124</text><text class="s" x="478.5" y="90">106019</text><text class="p" x="478.5" y="102.7">25.00%</text>
<text class="a" x="718.5" y="76.7">324</text><text class="s" x="718.5" y="90">107963</text><text class="p" x="718.5" y="102.7">25.00%</text>
<text class="a" x="958.5" y="76.7">273</text><text class="s" x="958.5" y="90">110249</text><text class="p" x="958.5" y="102.7">21.85%</text>
</g>
<g id="row18" transform="translate(31.3,2836.3)">
<use href="#staff"/>
<use href="#p33"/><use href="#p34" x="240"/><use href="#p35" x="480"/><use href="#p36" x="720"/>
<rect class="bo" x="0" y="0" width="420" height="60"/><rect class="ro" x="420" y="0" width="2" height="60"/>
<text class="mn" x="0.5" y="-7.3">69</text><text class="mn" x="240.5" y="-7.3">70</text><text class="mn" x="480.5" y="-7.3">71</text><text class="mn" x="720.5" y="-7.3">72</text>
<text class="a" x="238.5" y="76.7">288</text><text class="s" x="238.5" y="90">113705</text><text class="p" x="238.5" y="102.7">9.35%</text>
<text class="a" x="478.5" y="76.7">218</text><text class="s" x="478.5" y="90">116321</text><text class="p" x="478.5" y="102.7">0.00%</text>
<text class="a" x="718.5" y="76.7">324</text><text class="s" x="718.5" y="90">118265</text><text class="p" x="718.5" y="102.7">0.00%</text>
<text class="a" x="958.5" y="76.7">273</text><text class="s" x="958.5" y="90">119903</text><text class="p" x="958.5" y="102.7">0.00%</text>
</g>
<g id="row19" transform="translate(31.3,2990.3)">
<use href="#staff"/>
<use href="#p37"/><use href="#p38" x="240"/><use href="#p39" x="480"/><use href="#p40" x="720"/>
<rect class="go" x="15" y="0" width="195" height="60"/>
<text class="mn" x="0.5" y="-7.3">73</text><text class="mn" x="240.5" y="-7.3">74</text><text class="mn" x="480.5" y="-7.3">75</text><text class="mn" x="720.5" y="-7.3">76</text>
<text class="a" x="238.5" y="76.7">288</text><text class="s" x="238.5" y="90">121631</text><text class="p" x="238.5" y="102.7">25.00%</text>
<text class="a" x="478.5" y="76.7">296</text><text class="s" x="478.5" y="90">123407</text><text class="p" x="478.5" y="102.7">25.00%</text>
<text class="a" x="718.5" y="76.7">127</text><text class="s" x="718.5" y="90">124169</text><text class="p" x="718.5" y="102.7">25.00%</text>
<text class="a" x="958.5" y="76.7">326</text><text class="s" x="958.5" y="90">126125</text><text class="p" x="958.5" y="102.7">25.00%</text>
</g>
<g id="row20" transform="translate(31.3,3144.3)">
<use href="#staff"/>
<use href="#p41"/><use href="#p40" x="240"/><use href="#p39" x="480"/><use href="#p40" x="720"/>
<text class="mn" x="0.5" y="-7.3">77</text><text class="mn" x="240.5" y="-7.3">78</text><text class="mn" x="480.5" y="-7.3">79</text><text class="mn" x="720.5" y="-7.3">80</text>
<text class="a" x="238.5" y="76.7">169</text><text class="s" x="238.5" y="90">127139</text><text class="p" x="238.5" y="102.7">25.00%</text>
<text class="a" x="478.5" y="76.7">326</text><text class="s" x="478.5" y="90">129095</text><text class="p" x="478.5" y="102.7">25.00%</text>
<text class="a" x="718.5" y="76.7">127</text><text class="s" x="718.5" y="90">129857</text><text class="p" x="718.5" y="102.7">25.00%</text>
<text class="a" x="958.5" y="76.7">326</text><text class="s" x="958.5" y="90">131813</text><text class="p" x="958.5" y="102.7">25.00%</text>
</g>
<g id="row21" transform="translate(31.3,3298.3)">
<use href="#staff"/>
<use href="#p81"/><use href="#p82" x="240"/><use href="#p3" x="480"/><use href="#p84" x="720"/>
<rect class="go" x="240" y="0" width="180" height="60"/>
<text class="mn" x="0.5" y="-7.3">81</text><text class="mn" x="240.5" y="-7.3">82</text><text class="mn" x="480.5" y="-7.3">83</text><text class="mn" x="720.5" y="-7.3">84</text>
<text class="a" x="238.5" y="76.7">169</text><text class="s" x="238.5" y="90">132827</text><text class="p" x="238.5" y="102.7">25.00%</text>
<text class="a" x="478.5" y="76.7">188</text><text class="s" x="478.5" y="90">133955</text><text class="p" x="478.5" y="102.7">50.00%</text>
<text class="a" x="718.5" y="76.7">36</text><text class="s" x="718.5" y="90">134171</text><text class="p" x="718.5" y="102.7">50.00%</text>
<text class="a" x="958.5" y="76.7">108</text><text class="s" x="958.5" y="90">134819</text><text class="p" x="958.5" y="102.7">50.00%</text>
</g>
<g id="row22" transform="translate(31.3,3452.3)">
<use href="#staff"/>
<use href="#p85"/><use href="#p86" x="240"/><use href="#p87" x="480"/><use href="#p86" x="720"/>
<text class="mn" x="0.5" y="-7.3">85</text><text class="mn" x="240.5" y="-7.3">86</text><text class="mn" x="480.5" y="-7.3">87</text><text class="mn" x="720.5" y="-7.3">88</text>
<text class="a" x="238.5" y="76.7">72</text><text class="s" x="238.5" y="90">135251</text><text class="p" x="238.5" y="102.7">50.00%</text>
<text class="a" x="478.5" y="76.7">180</text><text class="s" x="478.5" y="90">136331</text><text class="p" x="478.5" y="102.7">50.00%</text>
<text class="a" x="718.5" y="76.7">36</text><text class="s" x="718.5" y="90">136547</text><text class="p" x="718.5" y="102.7">50.00%</text>
<text class="a" x="958.5" y="76.7">180</text><text class="s" x="958.5" y="90">137627</text><text class="p" x="958.5" y="102.7">50.00%</text>
</g>
<g id="row23" transform="translate(31.3,3606.3)">
<use href="#staff"/>
<use href="#p3"/><use href="#p86" x="240"/><use href="#p91" x="480"/><use href="#p92" x="720"/>
<rect class="go" x="495" y="0" width="210" height="60"/>
<text class="mn" x="0.5" y="-7.3">89</text><text class="mn" x="240.5" y="-7.3">90</text><text class="mn" x="480.5" y="-7.3">91</text><text class="mn" x="720.5" y="-7.3">92</text>
<text class="a" x="238.5" y="76.7">36</text><text class="s" x="238.5" y="90">137843</text><text class="p" x="238.5" y="102.7">50.00%</text>
<text class="a" x="478.5" y="76.7">180</text><text class="s" x="478.5" y="90">138923</text><text class="p" x="478.5" y="102.7">50.00%</text>
<text class="a" x="718.5" y="76.7">324</text><text class="s" x="718.5" y="90">140867</text><text class="p" x="718.5" y="102.7">75.00%</text>
<text class="a" x="958.5" y="76.7">235</text><text class="s" x="958.5" y="90">142277</text><text class="p" x="958.5" y="102.7">75.00%</text>
</g>
<g id="row24" transform="translate(31.3,3760.3)">
<use href="#staff"/>
<use href="#p32"/><use href="#p33" x="240"/><use href="#p34" x="480"/><use href="#p35" x="720"/>
<rect class="bo" x="180" y="0" width="780" height="60"/>
<text class="mn" x="0.5" y="-7.3">93</text><text class="mn" x="240.5" y="-7.3">94</text><text class="mn" x="480.5" y="-7.3">95</text><text class="mn" x="720.5" y="-7.3">96</text>
<text class="a" x="238.5" y="76.7">273</text><text class="s" x="238.5" y="90">144563</text><text class="p" x="238.5" y="102.7">71.85%</text>
<text class="a" x="478.5" y="76.7">288</text><text class="s" x="478.5" y="90">148019</text><text class="p" x="478.5" y="102.7">59.35%</text>
<text class="a" x="718.5" y="76.7">218</text><text class="s" x="718.5" y="90">150635</text><text class="p" x="718.5" y="102.7">46.85%</text>
<text class="a" x="958.5" y="76.7">324</text><text class="s" x="958.5" y="90">154523</text><text class="p" x="958.5" y="102.7">34.35%</text>
</g>
<g id="row25" transform="translate(31.3,3914.3)">
<use href="#staff"/>
<use href="#p36"/><use href="#p98" x="240"/><use href="#p38" x="480"/><use href="#p100" x="720"/>
<rect class="bo" x="0" y="0" width="660" height="60"/><rect class="go" x="735" y="0" width="195" height="60"/>
<text class="mn" x="0.5" y="-7.3">97</text><text class="mn" x="240.5" y="-7.3">98</text><text class="mn" x="480.5" y="-7.3">99</text><text class="mn" x="720.5" y="-7.3">100</text>
<text class="a" x="238.5" y="76.7">273</text><text class="s" x="238.5" y="90">157799</text><text class="p" x="238.5" y="102.7">21.85%</text>
<text class="a" x="478.5" y="76.7">288</text><text class="s" x="478.5" y="90">161255</text><text class="p" x="478.5" y="102.7">9.35%</text>
<text class="a" x="718.5" y="76.7">296</text><text class="s" x="718.5" y="90">164375</text><text class="p" x="718.5" y="102.7">0.00%</text>
<text class="a" x="958.5" y="76.7">252</text><text class="s" x="958.5" y="90">165887</text><text class="p" x="958.5" y="102.7">25.00%</text>
</g>
<g id="row26" transform="translate(31.3,4068.3)">
<use href="#staff"/>
<use href="#p101"/><use href="#p102" x="240"/><use href="#p101" x="480"/><use href="#p104" x="720"/>
<text class="mn" x="0.5" y="-7.3">101</text><text class="mn" x="240.5" y="-7.3">102</text><text class="mn" x="480.5" y="-7.3">103</text><text class="mn" x="720.5" y="-7.3">104</text>
<text class="a" x="238.5" y="76.7">283</text><text class="s" x="238.5" y="90">167585</text><text class="p" x="238.5" y="102.7">25.00%</text>
<text class="a" x="478.5" y="76.7">252</text><text class="s" x="478.5" y="90">169097</text><text class="p" x="478.5" y="102.7">25.00%</text>
<text class="a" x="718.5" y="76.7">283</text><text class="s" x="718.5" y="90">170795</text><text class="p" x="718.5" y="102.7">25.00%</text>
<text class="a" x="958.5" y="76.7">252</text><text class="s" x="958.5" y="90">172307</text><text class="p" x="958.5" y="102.7">25.00%</text>
</g>
<g id="row27" transform="translate(31.3,4222.3)">
<use href="#staff"/>
<use href="#p101"/><use href="#p102" x="240"/><use href="#p107" x="480"/><use href="#p108" x="720"/>
<text class="mn" x="0.5" y="-7.3">105</text><text class="mn" x="240.5" y="-7.3">106</text><text class="mn" x="480.5" y="-7.3">107</text><text class="mn" x="720.5" y="-7.3">108</text>
<text class="a" x="238.5" y="76.7">283</text><text class="s" x="238.5" y="90">174005</text><text class="p" x="238.5" y="102.7">25.00%</text>
<text class="a" x="478.5" y="76.7">252</text><text class="s" x="478.5" y="90">175517</text><text class="p" x="478.5" y="102.7">25.00%</text>
<text class="a" x="718.5" y="76.7">206</text><text class="s" x="718.5" y="90">176753</text><text class="p" x="718.5" y="102.7">25.00%</text>
<text class="a" x="958.5" y="76.7">216</text><text class="s" x="958.5" y="90">178049</text><text class="p" x="958.5" y="102.7">25.00%</text>
</g>
<g id="row28" transform="translate(31.3,4376.3)">
<use href="#staff"/>
<use href="#p109"/><use href="#p110" x="240"/><use href="#p111" x="480"/><use href="#p112" x="720"/>
<rect class="ro" x="300" y="0" width="3" height="60"/><rect class="bo" x="303" y="0" width="481" height="60"/>
<text class="mn" x="0.5" y="-7.3">109</text><text class="mn" x="240.5" y="-7.3">110</text><text class="mn" x="480.5" y="-7.3">111</text><text class="mn" x="720.5" y="-7.3">112</text>
<text class="a" x="238.5" y="76.7">266</text><text class="s" x="238.5" y="90">179645</text><text class="p" x="238.5" y="102.7">25.00%</text>
<text class="a" x="478.5" y="76.7">288</text><text class="s" x="478.5" y="90">182669</text><text class="p" x="478.5" y="102.7">15.86%</text>
<text class="a" x="718.5" y="76.7">242</text><text class="s" x="718.5" y="90">185573</text><text class="p" x="718.5" y="102.7">3.36%</text>
<text class="a" x="958.5" y="76.7">182</text><text class="s" x="958.5" y="90">187541</text><text class="p" x="958.5" y="102.7">0.00%</text>
</g>
</g>
</svg>
